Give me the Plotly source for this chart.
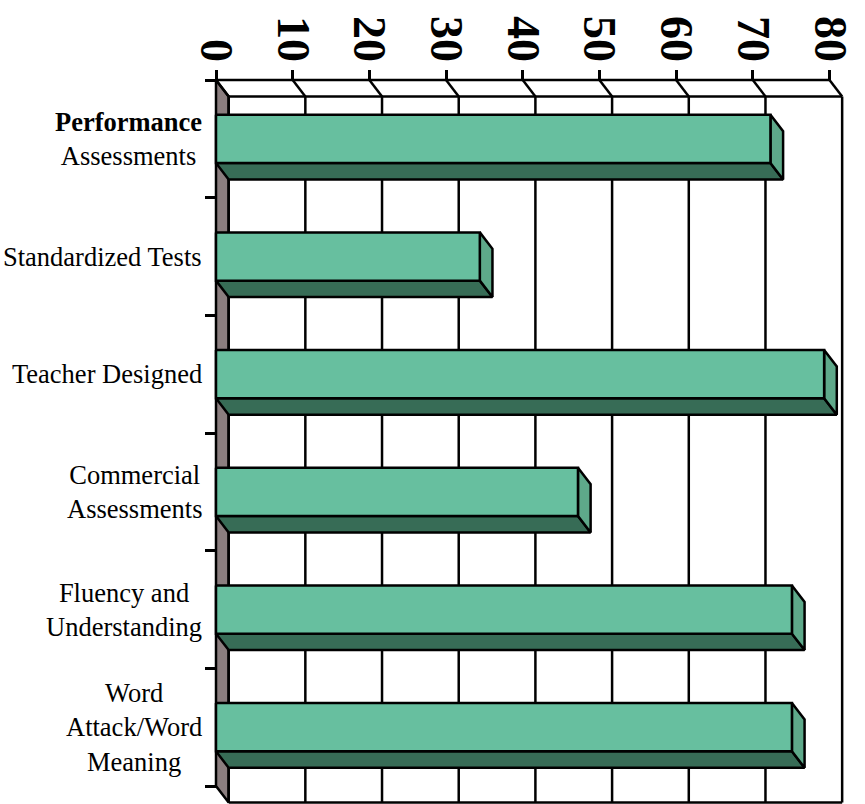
import plotly.graph_objects as go

# ---- data ----
categories = [
    "<b>Performance</b><br>Assessments",
    "Standardized Tests",
    "Teacher Designed",
    "Commercial<br>Assessments",
    "Fluency and<br>Understanding",
    "Word<br>Attack/Word<br>Meaning",
]
values = [72.3, 34.4, 79.3, 47.2, 75.1, 75.1]
tick_values = [0, 10, 20, 30, 40, 50, 60, 70, 80]
tick_labels = ["0", "10", "20", "30", "40", "50", "60", "70", "80"]

# ---- style / geometry constants ----
FRONT = "#67BF9F"
BOTTOM = "#376C56"
SIDE = "#5EA98A"
WALL = "#8B7E7F"
EDGE = "black"
LW = 2.5
DX = 1.65      # depth offset in value units
DY = 0.14      # depth offset in category units
HALF = 0.205   # half bar thickness
XMAX_AX = tick_values[-1]
n = len(categories)
top_c, bot_c = -0.5, n - 0.5

W, H = 865, 804
ML, MR, MT, MB = 212, 20, 76, 0
pw = W - ML - MR
ph = H - MT - MB
sx = 613.5 / XMAX_AX
sy = 117.67
xmin = -4 / sx
xmax = xmin + pw / sx
ytop = top_c - 4 / sy
ybot = ytop + ph / sy

fig = go.Figure()

# left wall (floor of horizontal bar chart)
fig.add_trace(go.Scatter(
    x=[0, DX, DX, 0, 0], y=[top_c, top_c + DY, bot_c + DY, bot_c, top_c],
    mode="lines", fill="toself", fillcolor=WALL,
    line=dict(color=EDGE, width=LW), hoverinfo="skip"))

# back plane grid + frame
gx, gy = [], []
for t in tick_values:
    gx += [t + DX, t + DX, None]
    gy += [top_c + DY, bot_c + DY, None]
    gx += [t, t + DX, None]
    gy += [top_c, top_c + DY, None]
gx += [DX, XMAX_AX + DX, None, DX, XMAX_AX + DX, None, 0, XMAX_AX, None]
gy += [top_c + DY, top_c + DY, None, bot_c + DY, bot_c + DY, None, top_c, top_c, None]
fig.add_trace(go.Scatter(x=gx, y=gy, mode="lines",
                         line=dict(color=EDGE, width=LW), hoverinfo="skip"))

# bars as 3-D boxes
for i, v in enumerate(values):
    t0, b0 = i - HALF, i + HALF
    # bottom face
    fig.add_trace(go.Scatter(
        x=[0, v, v + DX, DX, 0], y=[b0, b0, b0 + DY, b0 + DY, b0],
        mode="lines", fill="toself", fillcolor=BOTTOM,
        line=dict(color=EDGE, width=LW), hoverinfo="skip"))
    # right face
    fig.add_trace(go.Scatter(
        x=[v, v + DX, v + DX, v, v], y=[t0, t0 + DY, b0 + DY, b0, t0],
        mode="lines", fill="toself", fillcolor=SIDE,
        line=dict(color=EDGE, width=LW), hoverinfo="skip"))
    # front face
    fig.add_trace(go.Scatter(
        x=[0, v, v, 0, 0], y=[t0, t0, b0, b0, t0],
        mode="lines", fill="toself", fillcolor=FRONT,
        line=dict(color=EDGE, width=LW), hoverinfo="skip",
        name=categories[i].replace("<br>", " ")))

# category labels
for i, c in enumerate(categories):
    fig.add_annotation(x=0, y=i, xref="x", yref="y", text=c, showarrow=False,
                       xanchor="right", yanchor="middle", align="center",
                       xshift=-12,
                       font=dict(family="Liberation Serif", size=26.5, color="black"))

fig.update_layout(
    width=W, height=H,
    margin=dict(l=ML, r=MR, t=MT, b=MB, pad=0, autoexpand=False),
    plot_bgcolor="white", paper_bgcolor="white",
    showlegend=False,
    xaxis=dict(range=[xmin, xmax], side="top", anchor="free",
               position=(ph - 4) / ph,
               automargin=False,
               tickvals=tick_values,
               ticktext=["<b>%s</b>" % s for s in tick_labels],
               tickangle=90, ticks="outside", ticklen=10, tickwidth=LW,
               ticklabelstandoff=-8,
               tickcolor=EDGE, showgrid=False, zeroline=False, showline=False,
               tickfont=dict(family="Liberation Serif", size=46, color="black")),
    yaxis=dict(range=[ybot, ytop], anchor="free", position=4 / pw,
               automargin=False,
               tickvals=[k - 0.5 for k in range(n + 1)],
               ticks="outside", ticklen=11, tickwidth=LW, tickcolor=EDGE,
               showticklabels=False, showgrid=False, zeroline=False,
               showline=False),
)

fig.write_html(
    "out.html",
    config={"displayModeBar": False},
    post_script="document.body.style.margin='0px';document.body.style.overflow='hidden';",
)
